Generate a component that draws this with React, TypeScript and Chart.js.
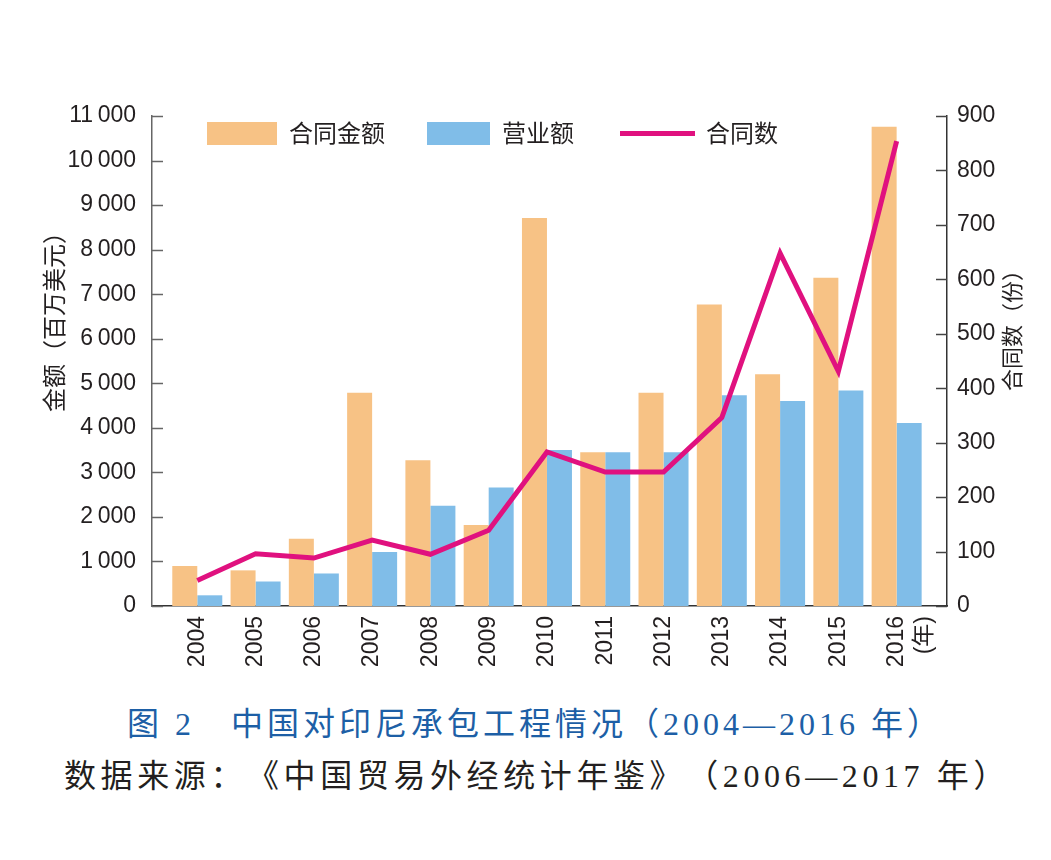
import React, { useEffect, useRef } from 'react';
import { Chart, registerables } from 'chart.js';

Chart.register(...registerables);

// ---- data ----
const years = ['2004', '2005', '2006', '2007', '2008', '2009', '2010', '2011', '2012', '2013', '2014', '2015', '2016'];
const yearUnit = '(年)';
const contractAmount = [900, 800, 1510, 4790, 3270, 1820, 8710, 3450, 4790, 6770, 5200, 7370, 10760];
const turnover = [240, 550, 730, 1210, 2250, 2660, 3500, 3450, 3450, 4730, 4600, 4840, 4110];
const contractCount = [47, 96, 88, 121, 95, 139, 283, 246, 246, 346, 648, 431, 854];
const seriesNames = ['合同金额', '营业额', '合同数'];
const leftTitle = '金额（百万美元）';
const rightTitle = '合同数（份）';
const captionTitle = '图 2\u3000中国对印尼承包工程情况（2004—2016 年）';
const captionSource = '数据来源：《中国贸易外经统计年鉴》（2006—2017 年）';

const ORANGE = '#F7C285';
const BLUE = '#80BDE8';
const MAGENTA = '#E0117F';
const TEXT = '#231F20';
const SANS = "'Liberation Sans', 'Noto Sans CJK SC', sans-serif";
const CJK = "'Noto Sans CJK SC', 'Liberation Sans', sans-serif";

const fmt = (v: number) => String(v).replace(/\B(?=(\d{3})+(?!\d))/g, '\u2009');

const decorPlugin = {
  id: 'decor',
  afterDraw(chart: any) {
    const ctx = chart.ctx;
    const { left, right } = chart.chartArea;
    const ys = chart.scales.y;
    const y1 = chart.scales.y1;
    ctx.save();
    // inward tick marks
    ctx.lineWidth = 1.5;
    ctx.strokeStyle = '#666';
    ys.ticks.forEach((t: any) => {
      const p = Math.round(ys.getPixelForValue(t.value)) + 0.5;
      ctx.beginPath();
      ctx.moveTo(left, p);
      ctx.lineTo(left + 11, p);
      ctx.stroke();
    });
    ctx.strokeStyle = '#444';
    y1.ticks.forEach((t: any) => {
      const p = Math.round(y1.getPixelForValue(t.value)) + 0.5;
      ctx.beginPath();
      ctx.moveTo(right, p);
      ctx.lineTo(right - 11, p);
      ctx.stroke();
    });

    // legend
    const ds = chart.data.datasets;
    ctx.fillStyle = ds[0].backgroundColor;
    ctx.fillRect(207, 122, 70, 23);
    ctx.fillStyle = ds[1].backgroundColor;
    ctx.fillRect(427, 122, 63, 23);
    ctx.strokeStyle = ds[2].borderColor;
    ctx.lineWidth = 5;
    ctx.beginPath();
    ctx.moveTo(620, 133.5);
    ctx.lineTo(695, 133.5);
    ctx.stroke();
    ctx.fillStyle = TEXT;
    ctx.font = `24px ${CJK}`;
    ctx.textBaseline = 'middle';
    ctx.textAlign = 'left';
    ctx.fillText(ds[0].label, 289, 133);
    ctx.fillText(ds[1].label, 502, 133);
    ctx.fillText(ds[2].label, 706, 133);

    // axis titles
    ctx.textAlign = 'center';
    ctx.save();
    ctx.translate(54, 316);
    ctx.rotate(-Math.PI / 2);
    ctx.fillText(leftTitle, 0, 0);
    ctx.restore();
    ctx.save();
    ctx.translate(1012, 325);
    ctx.rotate(-Math.PI / 2);
    ctx.font = `22px ${CJK}`;
    ctx.fillText(rightTitle, 0, 0);
    ctx.restore();
    ctx.restore();
  },
};

const captionStyle: any = {
  position: 'absolute',
  whiteSpace: 'nowrap',
  fontFamily: "'Liberation Serif', 'Noto Sans CJK SC', serif",
  fontSize: 32,
  lineHeight: '40px',
  letterSpacing: '4px',
  textSpacingTrim: 'space-all',
};

export default function App() {
  const ref = useRef<HTMLCanvasElement | null>(null);

  useEffect(() => {
    if (!ref.current) return;
    const chart = new Chart(ref.current, {
      type: 'bar',
      data: {
        datasets: [
          {
            type: 'bar',
            label: seriesNames[0],
            data: contractAmount.map((v, i) => ({ x: i, y: v })),
            backgroundColor: ORANGE,
            yAxisID: 'y',
            categoryPercentage: 0.858,
            barPercentage: 1,
            order: 2,
          },
          {
            type: 'bar',
            label: seriesNames[1],
            data: turnover.map((v, i) => ({ x: i, y: v })),
            backgroundColor: BLUE,
            yAxisID: 'y',
            categoryPercentage: 0.858,
            barPercentage: 1,
            order: 2,
          },
          {
            type: 'line',
            label: seriesNames[2],
            data: contractCount.map((v, i) => ({ x: i, y: v })),
            borderColor: MAGENTA,
            backgroundColor: MAGENTA,
            borderWidth: 5,
            pointRadius: 0,
            tension: 0,
            borderJoinStyle: 'miter',
            yAxisID: 'y1',
            order: 1,
          },
        ] as any,
      },
      options: {
        responsive: false,
        animation: false,
        layout: { padding: { top: 116, left: 0, right: 0, bottom: 0 } },
        plugins: {
          legend: { display: false },
          title: { display: false },
          tooltip: { enabled: false },
        },
        scales: {
          x: {
            type: 'linear',
            min: -0.777,
            max: 12.864,
            offset: false,
            grid: { display: false, drawTicks: false },
            border: { display: true, color: '#333', width: 1.5 },
            afterBuildTicks: (scale: any) => {
              scale.ticks = years.map((_, i) => ({ value: i }));
            },
            afterFit: (scale: any) => {
              scale.height = 94;
            },
            ticks: {
              autoSkip: false,
              maxRotation: 90,
              minRotation: 90,
              padding: 10,
              color: TEXT,
              font: { family: SANS, size: 23 },
              callback: (v: any) => {
                const i = Math.round(Number(v));
                return i === years.length - 1 ? [years[i], yearUnit] : years[i];
              },
            },
          },
          y: {
            type: 'linear',
            position: 'left',
            min: 0,
            max: 11000,
            grid: { display: false, drawTicks: false },
            border: { display: true, color: '#666', width: 1.5 },
            afterFit: (scale: any) => {
              scale.width = 152;
            },
            ticks: {
              stepSize: 1000,
              padding: 16,
              color: TEXT,
              font: { family: SANS, size: 23 },
              callback: (v: any) => fmt(Number(v)),
            },
          },
          y1: {
            type: 'linear',
            position: 'right',
            min: 0,
            max: 900,
            grid: { display: false, drawTicks: false },
            border: { display: true, color: '#333', width: 1.5 },
            afterFit: (scale: any) => {
              scale.width = 104;
            },
            ticks: {
              stepSize: 100,
              padding: 10,
              color: TEXT,
              font: { family: SANS, size: 23 },
            },
          },
        },
      } as any,
      plugins: [decorPlugin],
    });
    return () => chart.destroy();
  }, []);

  return (
    <div style={{ position: 'absolute', left: 0, top: 0, width: 1051, height: 860, background: '#fff', overflow: 'hidden' }}>
      <canvas ref={ref} width={1051} height={700} style={{ display: 'block', width: 1051, height: 700 }} />
      <div style={{ ...captionStyle, left: 127, top: 704, color: '#1D5FA6' }}>{captionTitle}</div>
      <div style={{ ...captionStyle, left: 64, top: 756, letterSpacing: '4.6px', color: '#231F20' }}>{captionSource}</div>
    </div>
  );
}
